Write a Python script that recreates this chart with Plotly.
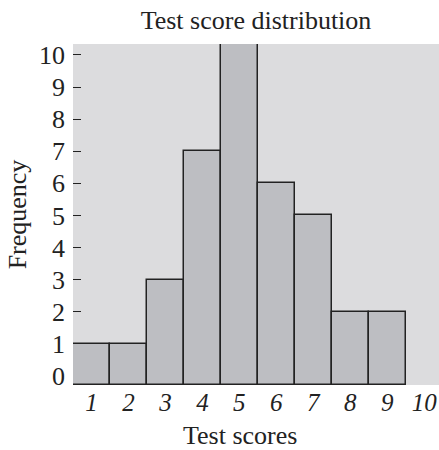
import plotly.graph_objects as go

scores = [1, 2, 3, 4, 5, 6, 7, 8, 9]
frequency = [1, 1, 3, 7, 11, 6, 5, 2, 2]
x_ticks = [1, 2, 3, 4, 5, 6, 7, 8, 9, 10]
y_ticks = [0, 1, 2, 3, 4, 5, 6, 7, 8, 9, 10]

Y_MIN = -0.28
Y_MAX = 10.34
FONT = "Liberation Serif"
INK = "#222222"

W, H = 439, 450
ML, MR, MT, MB = 73, 0, 44, 65
PW, PH = W - ML - MR, H - MT - MB

fig = go.Figure(
    go.Bar(
        x=scores,
        y=[f - Y_MIN for f in frequency],
        base=Y_MIN,
        width=1,
        marker=dict(color="#bdbec2", line=dict(color=INK, width=1.5)),
        hoverinfo="skip",
    )
)

fig.update_layout(
    width=W,
    height=H,
    margin=dict(l=ML, r=MR, t=MT, b=MB, autoexpand=False),
    paper_bgcolor="white",
    plot_bgcolor="#dcdcde",
    bargap=0,
    showlegend=False,
    title=dict(
        text="Test score distribution",
        x=(ML + W) / 2 / W,
        xanchor="center",
        y=1 - 20 / H,
        yanchor="middle",
        font=dict(family=FONT, size=26, color=INK),
    ),
    font=dict(family=FONT, color=INK),
    annotations=[
        dict(
            text="Test scores",
            xref="paper",
            yref="paper",
            x=(240 - ML) / PW,
            y=(H - MB - 435) / PH,
            xanchor="center",
            yanchor="middle",
            showarrow=False,
            font=dict(family=FONT, size=26, color=INK),
        )
    ],
)

fig.update_xaxes(
    range=[0.5, 10.4],
    tickmode="array",
    tickvals=x_ticks,
    ticktext=[f"<i>{t}</i>" for t in x_ticks],
    showgrid=False,
    zeroline=False,
    showline=False,
    ticks="",
    automargin=False,
    tickfont=dict(family=FONT, size=25, color=INK),
)

fig.update_yaxes(
    range=[Y_MIN, Y_MAX],
    tickmode="array",
    tickvals=y_ticks,
    showgrid=False,
    zeroline=False,
    showline=False,
    ticks="inside",
    ticklen=8,
    tickwidth=1.3,
    tickcolor=INK,
    layer="below traces",
    automargin=False,
    ticklabelstandoff=7,
    tickfont=dict(family=FONT, size=26, color=INK),
    title=dict(text="Frequency", font=dict(family=FONT, size=26, color=INK), standoff=4),
)

fig.write_html(
    "out.html",
    config={"displayModeBar": False},
    post_script="document.body.style.margin='0';document.body.style.overflow='hidden';",
)
